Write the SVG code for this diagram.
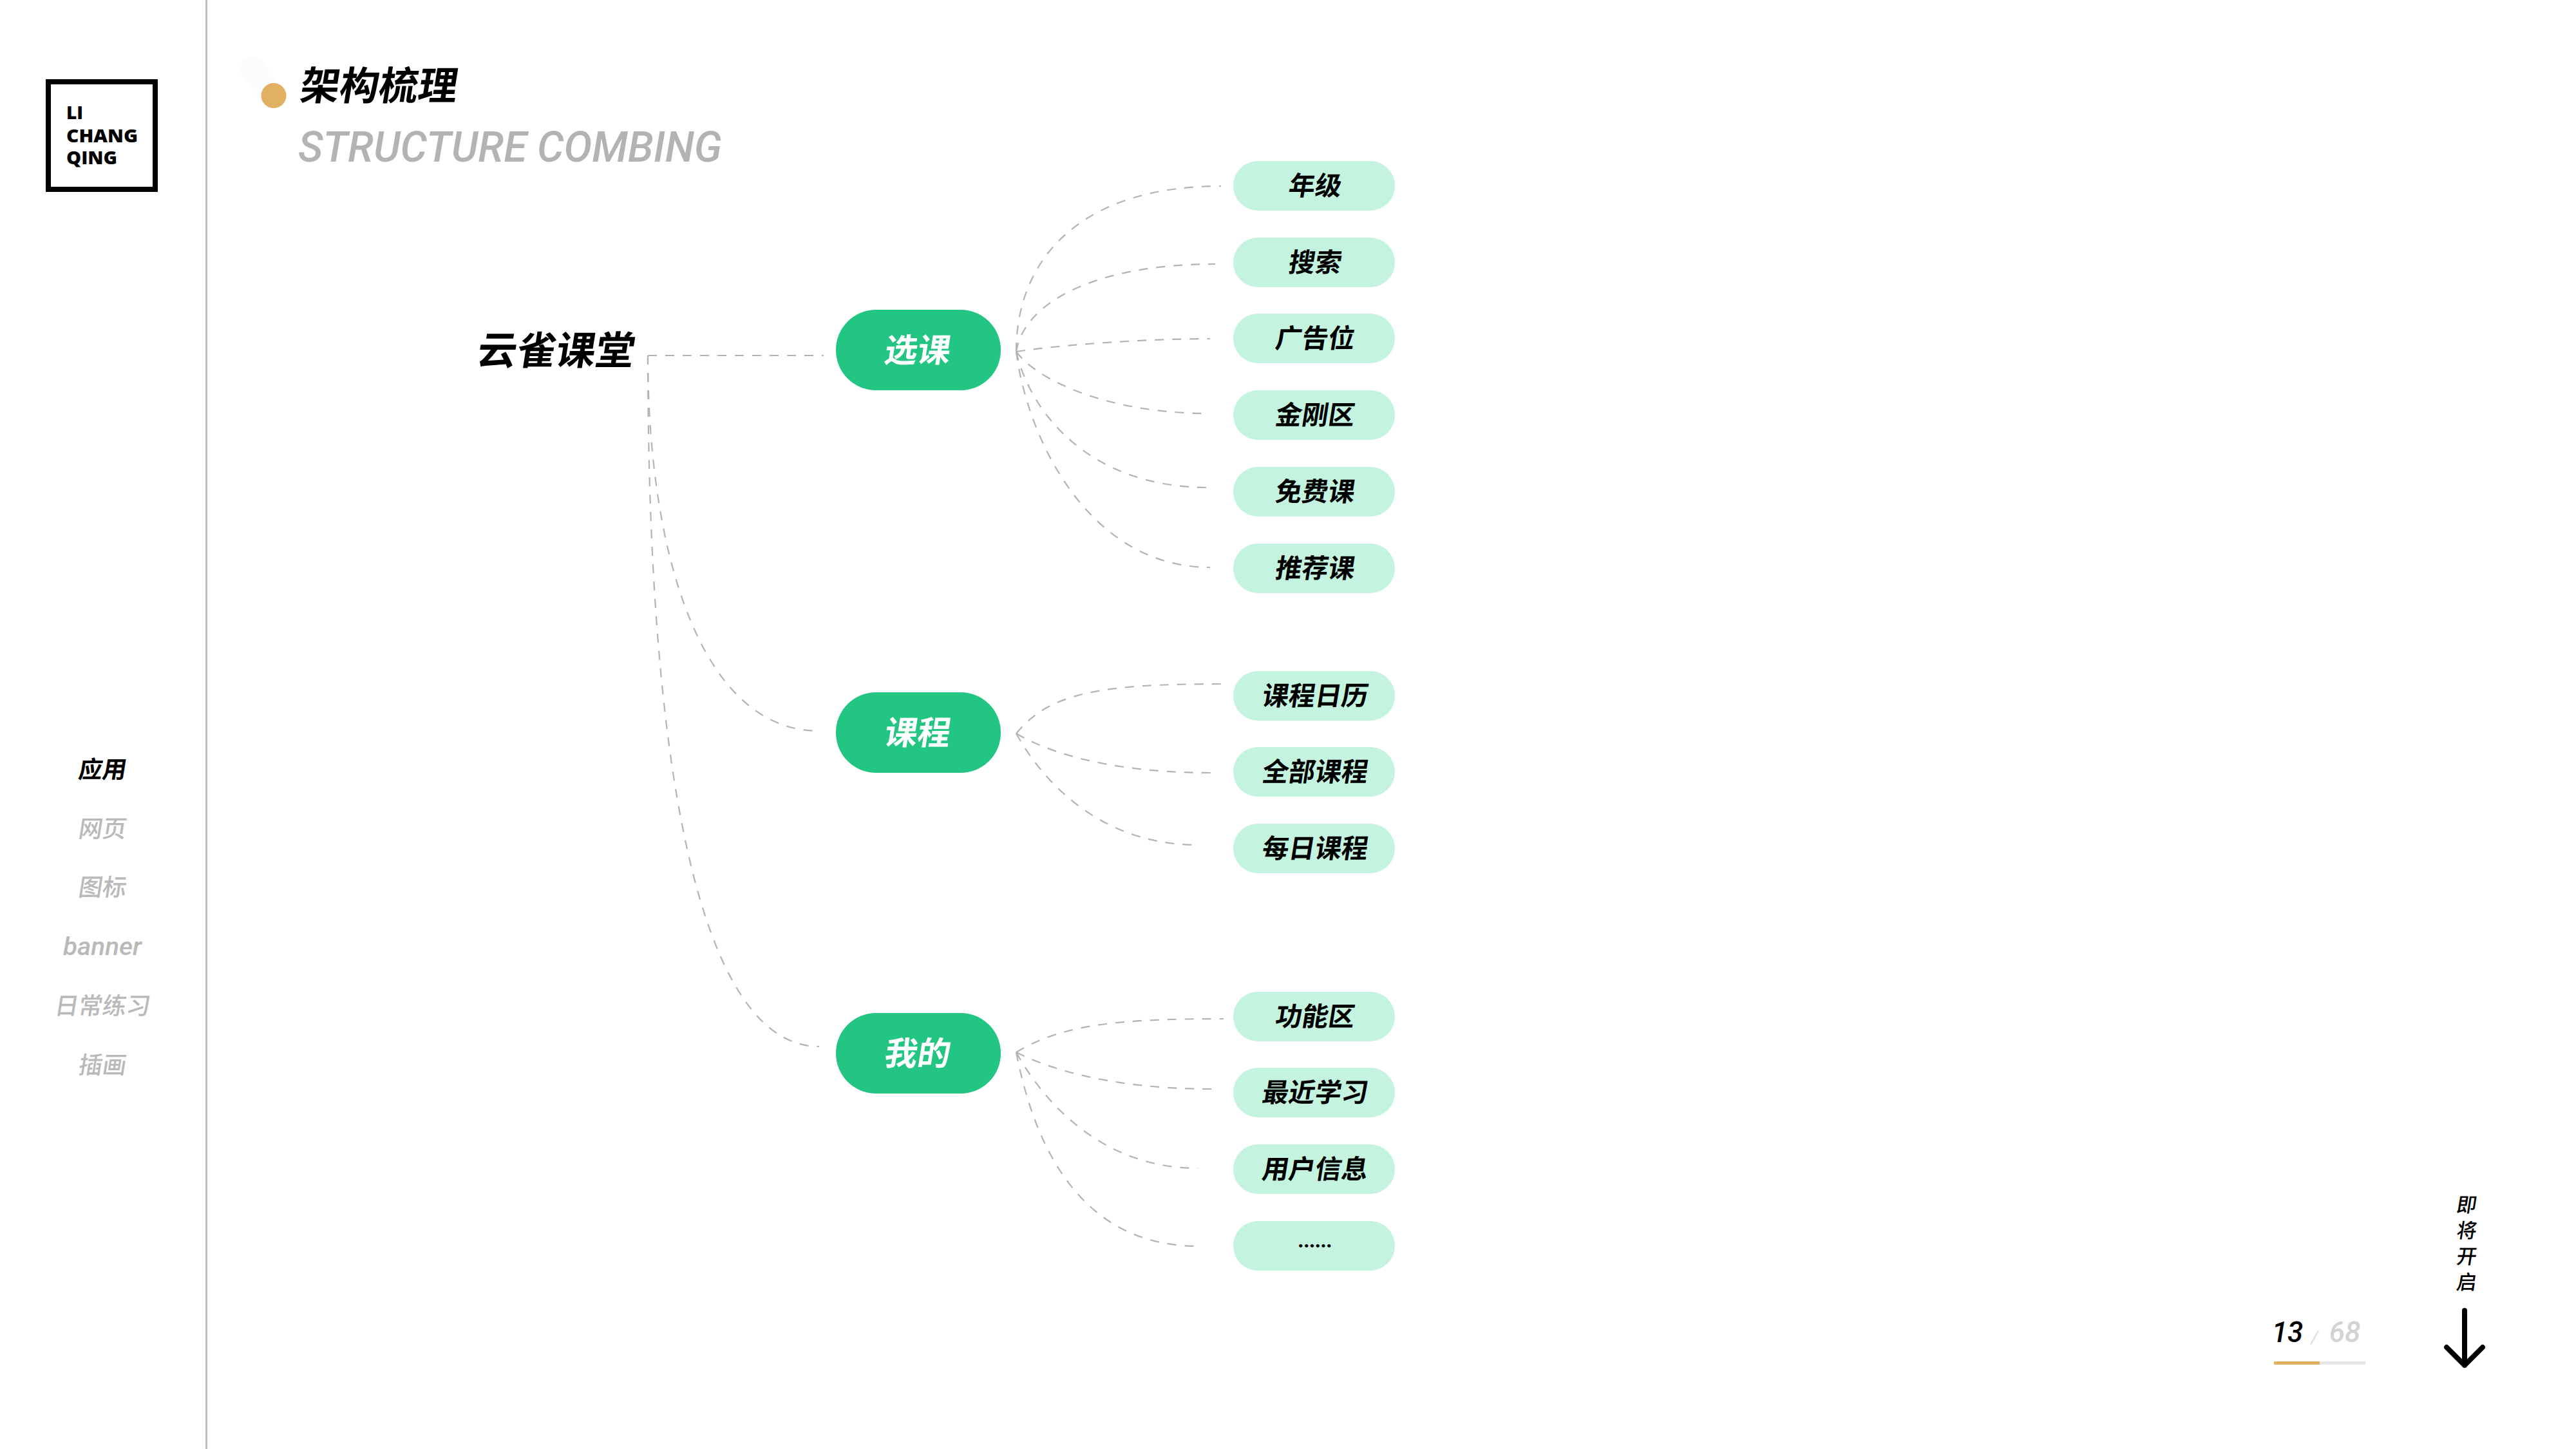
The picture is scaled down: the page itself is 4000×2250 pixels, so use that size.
<svg xmlns="http://www.w3.org/2000/svg" width="4000" height="2250" viewBox="0 0 4000 2250">
<style>
text{font-family:"Noto Sans CJK SC","Noto Sans",sans-serif;font-weight:700;text-anchor:middle;fill:#000}
.sk{transform-box:fill-box;transform-origin:center;transform:skewX(-9deg)}
.side{font-size:37px;font-weight:500;fill:#b9b9b9}
.leaf{fill:#c4f4df}
.mid{fill:#22c682}
.lt{font-size:41px}
.mt{font-size:51px;fill:#fff}
.conn{fill:none;stroke:#b3b3b3;stroke-width:2.2;stroke-dasharray:14 13}
.en{font-family:Roboto,"Liberation Sans",sans-serif;font-style:italic}
.logo{font-family:"Open Sans","Liberation Sans",sans-serif;font-weight:800;font-size:28px;text-anchor:start}
.foot{font-size:31px;font-weight:500}
</style>
<rect width="4000" height="2250" fill="#fff"/>
<g id="sidebar">
<rect x="319" y="0" width="3" height="2250" fill="#bcbcbc"/>
<rect x="75" y="127" width="166" height="167" fill="none" stroke="#000" stroke-width="8"/>
<text class="logo" x="103" y="185">LI</text>
<text class="logo" x="103" y="221" textLength="111" lengthAdjust="spacingAndGlyphs">CHANG</text>
<text class="logo" x="103" y="255" textLength="79" lengthAdjust="spacingAndGlyphs">QING</text>
<text class="side sk" x="160" y="1208" style="fill:#000;font-weight:700">应用</text>
<text class="side sk" x="160" y="1300">网页</text>
<text class="side sk" x="160" y="1391">图标</text>
<text class="side en" x="159" y="1483" style="font-size:39px" textLength="122" lengthAdjust="spacingAndGlyphs">banner</text>
<text class="side sk" x="160" y="1575">日常练习</text>
<text class="side sk" x="160" y="1667">插画</text>
</g>
<g id="header">
<g fill="#e6f0ec" opacity="0.15">
<circle cx="392" cy="107" r="19"/><circle cx="398" cy="115" r="19"/><circle cx="404" cy="123" r="19"/><circle cx="410" cy="131" r="19"/><circle cx="416" cy="139" r="19"/>
</g>
<circle cx="425" cy="148.500" r="19.500" fill="#e2b063"/>
<text class="sk" x="590" y="155" style="font-size:61px">架构梳理</text>
<text class="en" x="792" y="251" style="font-size:67px;font-weight:500;fill:#b3b3b3" textLength="658" lengthAdjust="spacingAndGlyphs">STRUCTURE COMBING</text>
</g>
<g id="connectors">
<path class="conn" d="M1006 552H1279"/>
<path class="conn" d="M1006 552C1006 850 1085 1135 1272 1135"/>
<path class="conn" d="M1006 552C1006 1250 1100 1625 1272 1625"/>
<path class="conn" d="M1578 546C1578 400 1680 289 1896 289"/>
<path class="conn" d="M1578 546C1590 470 1700 410 1887 410"/>
<path class="conn" d="M1578 546C1650 535 1780 526 1879 526"/>
<path class="conn" d="M1578 546C1610 590 1720 642 1877 642"/>
<path class="conn" d="M1578 546C1600 640 1690 757 1877 757"/>
<path class="conn" d="M1578 546C1595 680 1690 881 1879 881"/>
<path class="conn" d="M1578 1139C1630 1075 1710 1062 1900 1062"/>
<path class="conn" d="M1578 1139C1640 1175 1740 1200 1882 1200"/>
<path class="conn" d="M1578 1139C1620 1215 1710 1312 1860 1312"/>
<path class="conn" d="M1578 1634C1650 1590 1740 1582 1900 1582"/>
<path class="conn" d="M1578 1634C1640 1665 1740 1691 1882 1691"/>
<path class="conn" d="M1578 1634C1620 1710 1710 1814 1860 1814"/>
<path class="conn" d="M1578 1634C1610 1800 1690 1935 1860 1935"/>
</g>
<g id="root"><text class="sk" x="865" y="566" style="font-size:61px">云雀课堂</text></g>
<g id="n-xuanke"><rect class="mid" x="1298" y="481" width="256" height="125" rx="62"/><text class="mt sk" x="1426" y="562">选课</text></g>
<g id="n-kecheng"><rect class="mid" x="1298" y="1075" width="256" height="125" rx="62"/><text class="mt sk" x="1426" y="1156">课程</text></g>
<g id="n-wode"><rect class="mid" x="1298" y="1573" width="256" height="125" rx="62"/><text class="mt sk" x="1426" y="1654">我的</text></g>
<g id="l1"><rect class="leaf" x="1915" y="250" width="251" height="77" rx="38"/><text class="lt sk" x="2043" y="303">年级</text></g>
<g id="l2"><rect class="leaf" x="1915" y="369" width="251" height="77" rx="38"/><text class="lt sk" x="2043" y="422">搜索</text></g>
<g id="l3"><rect class="leaf" x="1915" y="487" width="251" height="77" rx="38"/><text class="lt sk" x="2043" y="540">广告位</text></g>
<g id="l4"><rect class="leaf" x="1915" y="606" width="251" height="77" rx="38"/><text class="lt sk" x="2043" y="659">金刚区</text></g>
<g id="l5"><rect class="leaf" x="1915" y="725" width="251" height="77" rx="38"/><text class="lt sk" x="2043" y="778">免费课</text></g>
<g id="l6"><rect class="leaf" x="1915" y="844" width="251" height="77" rx="38"/><text class="lt sk" x="2043" y="897">推荐课</text></g>
<g id="l7"><rect class="leaf" x="1915" y="1042" width="251" height="77" rx="38"/><text class="lt sk" x="2043" y="1095">课程日历</text></g>
<g id="l8"><rect class="leaf" x="1915" y="1160" width="251" height="77" rx="38"/><text class="lt sk" x="2043" y="1213">全部课程</text></g>
<g id="l9"><rect class="leaf" x="1915" y="1279" width="251" height="77" rx="38"/><text class="lt sk" x="2043" y="1332">每日课程</text></g>
<g id="l10"><rect class="leaf" x="1915" y="1540" width="251" height="77" rx="38"/><text class="lt sk" x="2043" y="1593">功能区</text></g>
<g id="l11"><rect class="leaf" x="1915" y="1658" width="251" height="77" rx="38"/><text class="lt sk" x="2043" y="1711">最近学习</text></g>
<g id="l12"><rect class="leaf" x="1915" y="1777" width="251" height="77" rx="38"/><text class="lt sk" x="2043" y="1830">用户信息</text></g>
<g id="l13"><rect class="leaf" x="1915" y="1896" width="251" height="77" rx="38"/><text class="en" x="2043" y="1937" style="font-size:30px;font-weight:900">......</text></g>
<g id="footer">
<text class="en" x="3552" y="2084" style="font-size:44px;font-weight:500">13</text>
<text class="en" x="3594" y="2086" style="font-size:28px;font-weight:400;fill:#ddd">/</text>
<text class="en" x="3641" y="2084" style="font-size:44px;font-weight:500;fill:#d3d3d3">68</text>
<rect x="3531" y="2114" width="142" height="5" fill="#e6e6e6"/>
<rect x="3531" y="2114" width="71" height="5" fill="#e2b063"/>
<text class="sk foot" x="3831" y="1882">即</text>
<text class="sk foot" x="3831" y="1922">将</text>
<text class="sk foot" x="3831" y="1962">开</text>
<text class="sk foot" x="3831" y="2002">启</text>
<path d="M3827 2035V2120M3799 2092L3827 2120L3855 2092" fill="none" stroke="#000" stroke-width="8" stroke-linecap="round" stroke-linejoin="round"/>
</g>
</svg>
